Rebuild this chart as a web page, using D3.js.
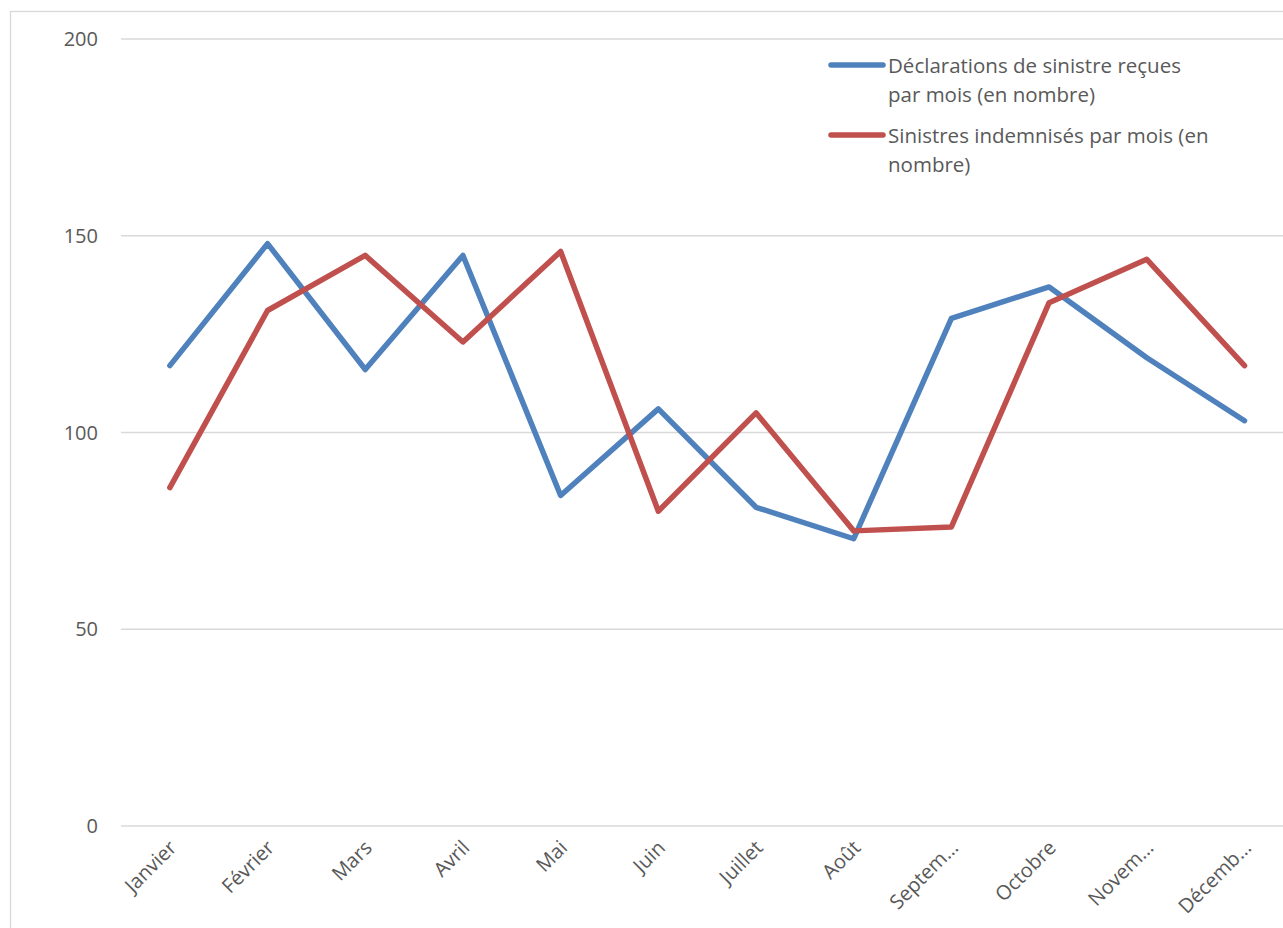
<!DOCTYPE html>
<html>
<head>
<meta charset="utf-8">
<script src="https://cdn.jsdelivr.net/npm/d3@7"></script>
<style>
  body { margin: 0; background: #fff; }
  svg { display: block; font-family: "Open Sans", "Noto Sans", sans-serif; }
</style>
</head>
<body>
<div id="container"></div>
<script>
// data
var months = ["Janvier", "Février", "Mars", "Avril", "Mai", "Juin",
  "Juillet", "Août", "Septembre", "Octobre", "Novembre", "Décembre"];
var monthLabels = ["Janvier", "Février", "Mars", "Avril", "Mai", "Juin",
  "Juillet", "Août", "Septem…", "Octobre", "Novem…", "Décemb…"];
var declarations = [117, 148, 116, 145, 84, 106, 81, 73, 129, 137, 119, 103];
var indemnises = [86, 131, 145, 123, 146, 80, 105, 75, 76, 133, 144, 117];
var yTicks = [0, 50, 100, 150, 200];
var seriesNames = [
  ["Déclarations de sinistre reçues", "par mois (en nombre)"],
  ["Sinistres indemnisés par mois (en", "nombre)"]
];
var colors = ["#4F81BD", "#C0504D"];

var W = 1283, H = 928;
var svg = d3.select("#container").append("svg")
  .attr("width", W).attr("height", H);

// chart frame (cut off by the picture edges)
svg.append("rect")
  .attr("x", 10.5).attr("y", 11.5)
  .attr("width", W + 20).attr("height", H + 20)
  .attr("fill", "none").attr("stroke", "#D9D9D9").attr("stroke-width", 1.3);

var x = d3.scalePoint().domain(months).range([169.85, 1244.5]);
var y = d3.scaleLinear().domain([0, 200]).range([826, 39]);

// gridlines
svg.append("g").selectAll("line")
  .data(yTicks).enter().append("line")
  .attr("x1", 121).attr("x2", 1300)
  .attr("y1", (d) => y(d)).attr("y2", (d) => y(d))
  .attr("stroke", "#D9D9D9").attr("stroke-width", 1.5);

// y labels
svg.append("g").selectAll("text")
  .data(yTicks).enter().append("text")
  .attr("x", 98).attr("y", (d) => y(d))
  .attr("dy", "0.35em")
  .attr("text-anchor", "end")
  .attr("font-size", 20).attr("fill", "#595959")
  .text((d) => d);

// x labels
svg.append("g").selectAll("text")
  .data(months).enter().append("text")
  .attr("text-anchor", "end")
  .attr("font-size", 20).attr("fill", "#595959")
  .attr("transform", (d) => "translate(" + (x(d) + 8) + ",849) rotate(-45)")
  .text((d, i) => monthLabels[i]);

// lines
var line = d3.line()
  .x((d, i) => x(months[i]))
  .y((d) => y(d));

[declarations, indemnises].forEach(function (s, k) {
  svg.append("path")
    .datum(s)
    .attr("d", line)
    .attr("fill", "none")
    .attr("stroke", colors[k])
    .attr("stroke-width", 5.5)
    .attr("stroke-linejoin", "round")
    .attr("stroke-linecap", "round");
});

// legend
var legend = svg.append("g");
seriesNames.forEach(function (lines, k) {
  var ly = 65 + k * 70;
  legend.append("line")
    .attr("x1", 831).attr("x2", 883)
    .attr("y1", ly).attr("y2", ly)
    .attr("stroke", colors[k]).attr("stroke-width", 5.5)
    .attr("stroke-linecap", "round");
  lines.forEach(function (t, j) {
    legend.append("text")
      .attr("x", 888).attr("y", ly + 8 + j * 29)
      .attr("font-size", 20.5).attr("fill", "#595959")
      .text(t);
  });
});
</script>
</body>
</html>
